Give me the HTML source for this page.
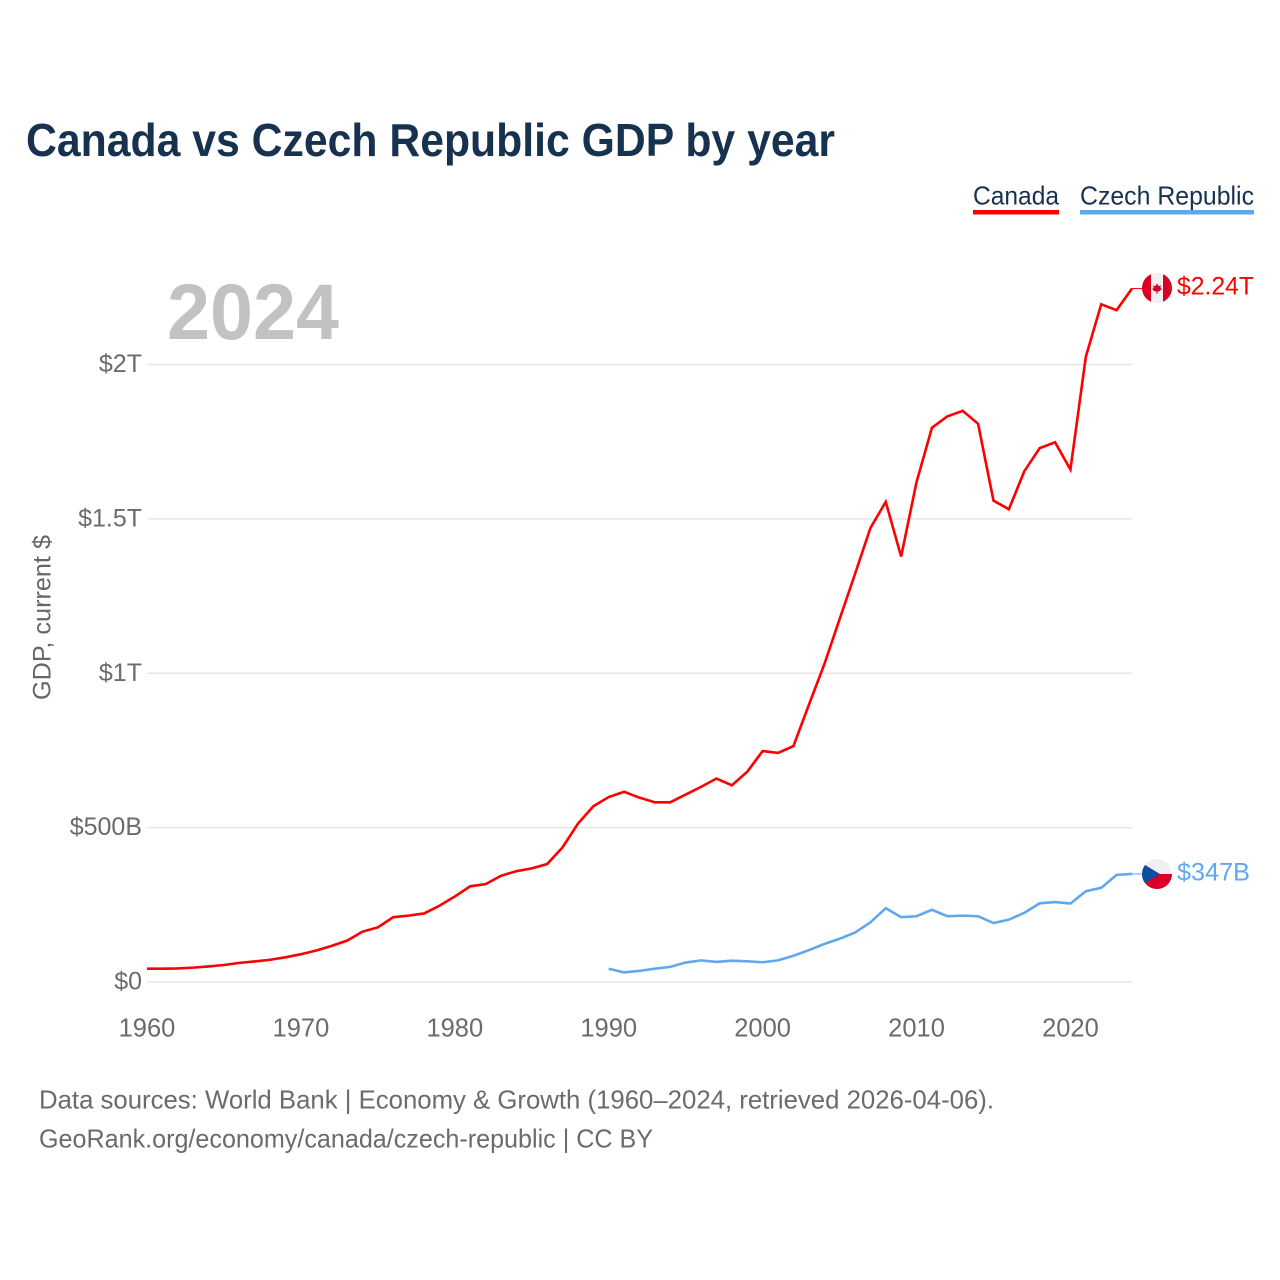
<!DOCTYPE html>
<html lang="en">
<head>
<meta charset="utf-8">
<title>Canada vs Czech Republic GDP by year</title>
<style>
html,body{margin:0;padding:0;background:#fff;}
svg{display:block;font-family:"Liberation Sans",sans-serif;}
</style>
</head>
<body>
<svg id="chart" xmlns="http://www.w3.org/2000/svg" width="1280" height="1280" viewBox="0 0 1280 1280">
  <defs>
    <clipPath id="clip-ca"><circle cx="1157" cy="288" r="15"/></clipPath>
    <clipPath id="clip-cz"><circle cx="1157" cy="874" r="15"/></clipPath>
  </defs>
  <rect width="1280" height="1280" fill="#ffffff"/>
  <text x="26" y="156" font-size="46" font-weight="700" fill="#17324f" textLength="809" lengthAdjust="spacingAndGlyphs">Canada vs Czech Republic GDP by year</text>

  <g>
    <text x="973" y="204.5" font-size="26" fill="#17324f" textLength="86" lengthAdjust="spacingAndGlyphs">Canada</text>
    <rect x="973" y="210" width="86" height="4.5" fill="#ff0000"/>
  </g>
  <g>
    <text x="1080" y="204.5" font-size="26" fill="#17324f" textLength="174" lengthAdjust="spacingAndGlyphs">Czech Republic</text>
    <rect x="1080" y="210" width="174" height="4.5" fill="#5fa8ee"/>
  </g>

  <text x="167" y="339" font-size="79" font-weight="700" fill="#c2c2c2" textLength="172" lengthAdjust="spacingAndGlyphs">2024</text>
  <text transform="translate(50.5,700) rotate(-90)" x="0" y="0" font-size="25" fill="#666666" textLength="165" lengthAdjust="spacingAndGlyphs">GDP, current $</text>

  <g id="grid"></g>
  <g id="yticks"></g>
  <g id="xticks"></g>
  <g id="series"></g>

  <g clip-path="url(#clip-ca)">
    <rect x="1142" y="273" width="30" height="30" fill="#f0f0f0"/>
    <rect x="1142" y="273" width="9" height="30" fill="#d80027"/>
    <rect x="1163" y="273" width="9" height="30" fill="#d80027"/>
    <polygon points="1157,283.5 1158.6,286 1161,285.5 1160.4,288 1162,289 1159,291.5 1157.5,291.5 1157.5,294 1156.5,294 1156.5,291.5 1155,291.5 1152,289 1153.6,288 1153,285.5 1155.4,286" fill="#d80027"/>
  </g>
  <text x="1177" y="294.5" font-size="25" fill="#ff0000" textLength="77" lengthAdjust="spacingAndGlyphs">$2.24T</text>

  <g clip-path="url(#clip-cz)">
    <rect x="1142" y="859" width="30" height="15" fill="#f0f0f0"/>
    <rect x="1142" y="874" width="30" height="15" fill="#d80027"/>
    <polygon points="1140,862 1160,874 1140,886" fill="#0b4ea2"/>
  </g>
  <text x="1177" y="880.5" font-size="25" fill="#5fa8ee" textLength="73" lengthAdjust="spacingAndGlyphs">$347B</text>

  <text x="39" y="1108.5" font-size="26" fill="#6b6b6b" textLength="955" lengthAdjust="spacingAndGlyphs">Data sources: World Bank | Economy &amp; Growth (1960–2024, retrieved 2026-04-06).</text>
  <text x="39" y="1147.5" font-size="26" fill="#6b6b6b" textLength="614" lengthAdjust="spacingAndGlyphs">GeoRank.org/economy/canada/czech-republic | CC BY</text>
</svg>
<script>
const canadaStartYear = 1960;
const czechStartYear = 1990;
// GDP in billions of current US$
const canadaValues = [43,43,44,46.5,50.5,55,62,66.5,72,80,90,102,117,134,163,177,210,215,222,247,277,310,317,344,359,368,382,436,513,569,599,616,597,582,582,607,632,659,637,681,748,742,764,897,1028,1175,1321,1470,1555,1378,1619,1795,1832,1850,1808,1559,1531,1654,1729,1748,1660,2025,2195,2176,2246];
const czechValues = [43,31,36,43,49,63,70,65,69,67,64,70,85,103,123,140,160,193,239,210,213,234,213,215,213,191,202,224,255,259,254,294,305,347,350];
const yTickValues = [0,500,1000,1500,2000];
const yTickLabels = ["$0","$500B","$1T","$1.5T","$2T"];
const xTickYears = [1960,1970,1980,1990,2000,2010,2020];

const NS = 'http://www.w3.org/2000/svg';
const xOf = function (year) { return 147 + (year - 1960) * (1132 - 147) / 64; };
const yOf = function (v) { return 982 - v * (982 - 364.5) / 2000; };

const grid = document.getElementById('grid');
const yticks = document.getElementById('yticks');
const xticks = document.getElementById('xticks');
const series = document.getElementById('series');

yTickValues.forEach(function (v, i) {
  const line = document.createElementNS(NS, 'line');
  
  
  line.setAttribute('x1', 147);
  line.setAttribute('x2', 1132);
  line.setAttribute('y1', yOf(v));
  line.setAttribute('y2', yOf(v));
  line.setAttribute('stroke', '#e6e6e6');
  line.setAttribute('stroke-width', '1.4');
  grid.appendChild(line);

  const t = document.createElementNS(NS, 'text');
  
  
  t.setAttribute('x', 142);
  t.setAttribute('y', yOf(v) + 7.5);
  t.setAttribute('text-anchor', 'end');
  t.setAttribute('font-size', '25');
  t.setAttribute('fill', '#6b6b6b');
  t.textContent = yTickLabels[i];
  yticks.appendChild(t);
});

xTickYears.forEach(function (yr) {
  const t = document.createElementNS(NS, 'text');
  
  
  t.setAttribute('x', xOf(yr));
  t.setAttribute('y', 1036.5);
  t.setAttribute('text-anchor', 'middle');
  t.setAttribute('font-size', '25.5');
  t.setAttribute('fill', '#6b6b6b');
  t.textContent = String(yr);
  xticks.appendChild(t);
});

function pointsFor(values, startYear) {
  return values.map(function (v, i) {
    return xOf(startYear + i).toFixed(2) + ',' + yOf(v).toFixed(2);
  }).join(' ');
}

const canadaLine = document.createElementNS(NS, 'polyline');


canadaLine.setAttribute('points', pointsFor(canadaValues, canadaStartYear));
canadaLine.setAttribute('fill', 'none');
canadaLine.setAttribute('stroke', '#ff0000');
canadaLine.setAttribute('stroke-width', '2.6');
series.appendChild(canadaLine);

const czechLine = document.createElementNS(NS, 'polyline');


czechLine.setAttribute('points', pointsFor(czechValues, czechStartYear));
czechLine.setAttribute('fill', 'none');
czechLine.setAttribute('stroke', '#5fa8ee');
czechLine.setAttribute('stroke-width', '2.6');
series.appendChild(czechLine);

const canadaConnector = document.createElementNS(NS, 'line');


canadaConnector.setAttribute('x1', xOf(2024));
canadaConnector.setAttribute('x2', 1142);
canadaConnector.setAttribute('y1', yOf(canadaValues[canadaValues.length - 1]));
canadaConnector.setAttribute('y2', yOf(canadaValues[canadaValues.length - 1]));
canadaConnector.setAttribute('stroke', '#ff0000');
canadaConnector.setAttribute('stroke-width', '1');
series.appendChild(canadaConnector);

const czechConnector = document.createElementNS(NS, 'line');


czechConnector.setAttribute('x1', xOf(2024));
czechConnector.setAttribute('x2', 1142);
czechConnector.setAttribute('y1', yOf(czechValues[czechValues.length - 1]));
czechConnector.setAttribute('y2', yOf(czechValues[czechValues.length - 1]));
czechConnector.setAttribute('stroke', '#5fa8ee');
czechConnector.setAttribute('stroke-width', '1');
series.appendChild(czechConnector);
</script>
</body>
</html>
